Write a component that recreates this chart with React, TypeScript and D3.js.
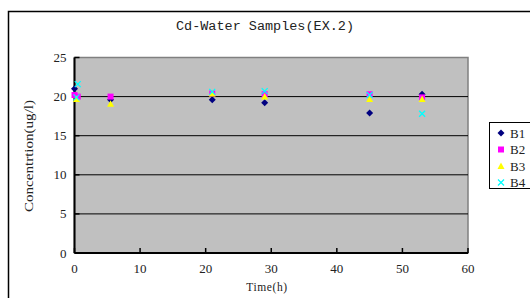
import React from "react";
import * as d3 from "d3";

// data: [time (h), concentration (ug/l)]
const seriesNames = ["B1", "B2", "B3", "B4"];
const b1: [number, number][] = [[0, 21.0], [5.5, 19.6], [21, 19.6], [29, 19.2], [45, 17.9], [53, 20.3]];
const b2: [number, number][] = [[0, 20.2], [0.5, 20.0], [5.5, 20.0], [21, 20.4], [29, 20.3], [45, 20.3], [53, 19.9]];
const b3: [number, number][] = [[0.3, 19.7], [5.5, 19.1], [21, 20.4], [29, 20.0], [45, 19.7], [53, 19.7]];
const b4: [number, number][] = [[0.5, 21.6], [0.3, 19.9], [21, 20.6], [29, 20.7], [45, 20.2], [53, 17.8]];
const xTicks = [0, 10, 20, 30, 40, 50, 60];
const yTicks = [0, 5, 10, 15, 20, 25];

const colors = ["#000080", "#ff00ff", "#ffff00", "#00ffff"];
const shapes = ["diamond", "square", "triangle", "cross"];

function marker(shape: string, color: string, x: number, y: number, key: string) {
  if (shape === "diamond") {
    return <path key={key} d={`M${x},${y - 3.5}L${x + 3.5},${y}L${x},${y + 3.5}L${x - 3.5},${y}Z`} fill={color} />;
  }
  if (shape === "square") {
    return <rect key={key} x={x - 3} y={y - 3} width={6} height={6} fill={color} />;
  }
  if (shape === "triangle") {
    return <path key={key} d={`M${x},${y - 3.5}L${x + 3.5},${y + 3}L${x - 3.5},${y + 3}Z`} fill={color} />;
  }
  return (
    <path key={key} d={`M${x - 3},${y - 3}L${x + 3},${y + 3}M${x - 3},${y + 3}L${x + 3},${y - 3}`}
      stroke={color} strokeWidth={1.3} fill="none" />
  );
}

export default function App() {
  const left = 74.5, right = 468, top = 57.5, bottom = 253;
  const x = d3.scaleLinear().domain([0, 60]).range([left, right]);
  const y = d3.scaleLinear().domain([0, 25]).range([bottom, top]);
  const allSeries = [b1, b2, b3, b4];
  const serif = "'Liberation Serif', 'DejaVu Serif', serif";
  const mono = "'Liberation Mono', 'DejaVu Sans Mono', monospace";

  return (
    <svg width={530} height={298} style={{ position: "absolute", left: 0, top: 0, background: "#fff" }}>
      {/* chart frame */}
      <rect x={8.5} y={11.5} width={540} height={300} fill="#fff" stroke="#000" strokeWidth={1.5} />
      <text x={265} y={30} textAnchor="middle" fontFamily={mono} fontSize={12.5} textLength={178}
        lengthAdjust="spacingAndGlyphs" fill="#222">Cd-Water Samples(EX.2)</text>

      {/* plot area */}
      <rect x={left} y={top} width={right - left} height={bottom - top} fill="#c0c0c0" stroke="#808080" strokeWidth={1.5} />
      {yTicks.filter(t => t > 0 && t < 25).map(t => (
        <line key={"g" + t} x1={left} x2={right} y1={y(t)} y2={y(t)} stroke="#000" strokeWidth={1} />
      ))}
      {/* axes */}
      <line x1={left} x2={left} y1={top} y2={bottom} stroke="#000" strokeWidth={2} />
      <line x1={left} x2={right} y1={bottom} y2={bottom} stroke="#000" strokeWidth={2} />
      {yTicks.map(t => (
        <g key={"yt" + t}>
          <line x1={left} x2={left + 5} y1={y(t)} y2={y(t)} stroke="#000" strokeWidth={1.5} />
          <text x={left - 8} y={y(t) + 4.5} textAnchor="end" fontFamily={serif} fontSize={13} fill="#222">{t}</text>
        </g>
      ))}
      {xTicks.map(t => (
        <g key={"xt" + t}>
          <line x1={x(t)} x2={x(t)} y1={bottom} y2={bottom - 5} stroke="#000" strokeWidth={1.5} />
          <text x={x(t)} y={bottom + 20} textAnchor="middle" fontFamily={serif} fontSize={13} fill="#222">{t}</text>
        </g>
      ))}
      <text x={267} y={291} textAnchor="middle" fontFamily={serif} fontSize={11.5} letterSpacing={0.6}
        fill="#222">Time(h)</text>
      <text transform="translate(33,156) rotate(-90)" textAnchor="middle" fontFamily={serif} fontSize={11.5}
        textLength={112} lengthAdjust="spacingAndGlyphs" fill="#222">Concentrtion(ug/l)</text>

      {/* points */}
      {allSeries.map((s, i) => (
        <g key={"s" + i}>
          {s.map((p, j) => marker(shapes[i], colors[i], x(p[0]), y(p[1]), `m${i}-${j}`))}
        </g>
      ))}

      {/* legend */}
      <rect x={489.5} y={122.5} width={60} height={66} fill="#fff" stroke="#000" strokeWidth={1} />
      {seriesNames.map((n, i) => (
        <g key={"l" + n}>
          {marker(shapes[i], colors[i], 501, 133 + i * 16.5, "lm" + i)}
          <text x={510} y={137.5 + i * 16.5} fontFamily={serif} fontSize={13} fill="#222">{n}</text>
        </g>
      ))}
    </svg>
  );
}
